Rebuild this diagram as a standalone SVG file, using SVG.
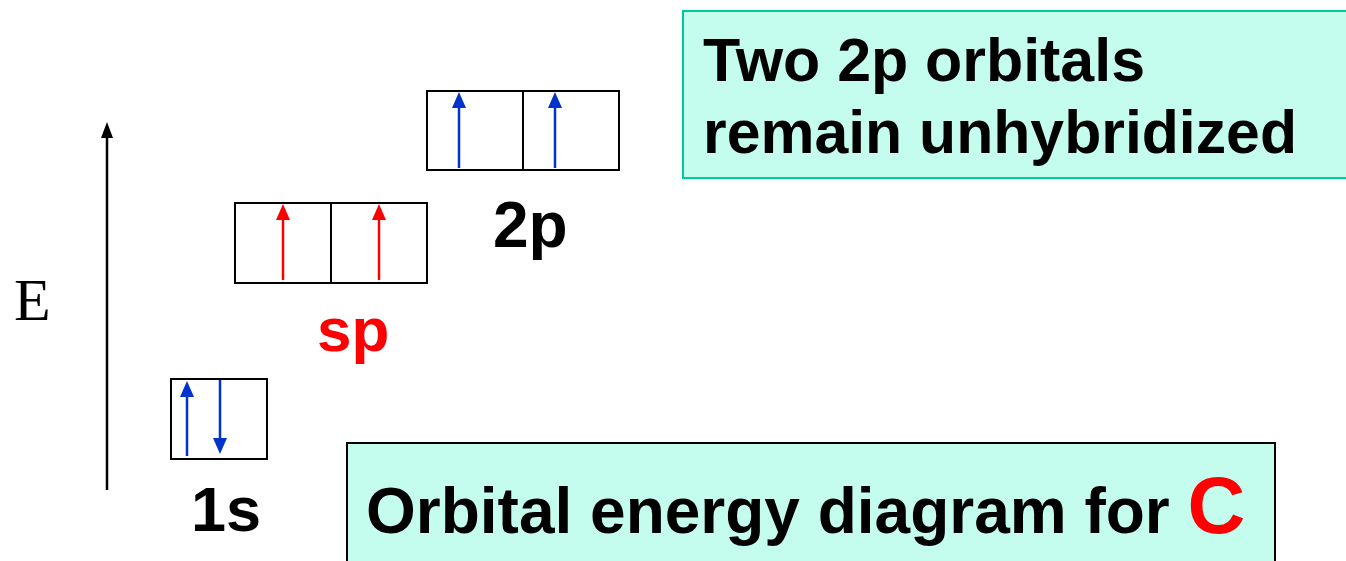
<svg xmlns="http://www.w3.org/2000/svg" width="1346" height="561" viewBox="0 0 1346 561">
<style>
.box{fill:#fff;stroke:#000;stroke-width:2}
.lbl{font-family:"Liberation Sans",Arial,sans-serif;font-weight:bold}
.blue{stroke:#0033cc;stroke-width:2.5}
.red{stroke:#ff0000;stroke-width:2.5}
</style>
<rect width="1346" height="561" fill="#fff"/>
<g id="axis">
<line x1="107" y1="490" x2="107" y2="135" stroke="#000" stroke-width="2.5"/>
<path d="M101,138 L107,122 L113,138 Z" fill="#000"/>
<text x="14" y="320" font-family="'Liberation Serif',serif" font-size="60">E</text>
</g>
<g id="orb1s">
<rect class="box" x="171" y="379" width="96" height="80"/>
<line x1="187" y1="456" x2="187" y2="395" class="blue"/>
<path d="M180,397 L187,381 L194,397 Z" fill="#0033cc"/>
<line x1="220" y1="380" x2="220" y2="440" class="blue"/>
<path d="M213,438 L220,454 L227,438 Z" fill="#0033cc"/>
<text class="lbl" x="191" y="531" font-size="63">1s</text>
</g>
<g id="orbsp">
<rect class="box" x="235" y="203" width="192" height="80"/>
<line x1="331" y1="203" x2="331" y2="283" stroke="#000" stroke-width="2"/>
<line x1="283" y1="280" x2="283" y2="218" class="red"/>
<path d="M276,220 L283,204 L290,220 Z" fill="#ff0000"/>
<line x1="379" y1="280" x2="379" y2="218" class="red"/>
<path d="M372,220 L379,204 L386,220 Z" fill="#ff0000"/>
<text class="lbl" x="317" y="351" font-size="62" fill="#ff0000">sp</text>
</g>
<g id="orb2p">
<rect class="box" x="427" y="91" width="192" height="79"/>
<line x1="523" y1="91" x2="523" y2="170" stroke="#000" stroke-width="2"/>
<line x1="459" y1="168" x2="459" y2="106" class="blue"/>
<path d="M452,108 L459,92 L466,108 Z" fill="#0033cc"/>
<line x1="555" y1="168" x2="555" y2="106" class="blue"/>
<path d="M548,108 L555,92 L562,108 Z" fill="#0033cc"/>
<text class="lbl" x="493" y="247" font-size="64">2p</text>
</g>
<g id="note">
<rect x="683" y="11" width="670" height="167" fill="#c4fdee" stroke="#00cc99" stroke-width="2"/>
<text class="lbl" x="703" y="81" font-size="62" textLength="442" lengthAdjust="spacingAndGlyphs">Two 2p orbitals</text>
<text class="lbl" x="703" y="153" font-size="62" textLength="594" lengthAdjust="spacingAndGlyphs">remain unhybridized</text>
</g>
<g id="title">
<rect x="347" y="443" width="928" height="130" fill="#c4fdee" stroke="#000" stroke-width="2"/>
<text class="lbl" x="366" y="533" font-size="64">Orbital energy diagram for <tspan fill="#ff0000" font-size="80">C</tspan></text>
</g>
</svg>
